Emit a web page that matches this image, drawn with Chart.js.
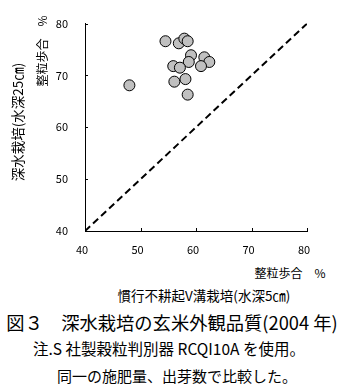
<!DOCTYPE html>
<html>
<head>
<meta charset="utf-8">
<script src="https://cdn.jsdelivr.net/npm/chart.js@4/dist/chart.umd.min.js"></script>
<style>
  html, body { margin: 0; padding: 0; background: #fff; }
  #wrap { position: relative; width: 342px; height: 389px; overflow: hidden; font-family: "Noto Sans CJK JP", sans-serif; color: #000; }
  #c { position: absolute; left: 0; top: 0; }
  .t { position: absolute; white-space: nowrap; line-height: 1; }
  .rot { transform: translate(-50%, -50%) rotate(-90deg); }
  .ctr { transform: translate(-50%, -50%); }
</style>
</head>
<body>
<div id="wrap">
  <canvas id="c" width="342" height="260"></canvas>
  <div class="t rot" style="left:42px; top:51px; font-size:12px;">整粒歩合　%</div>
  <div class="t rot" style="left:18px; top:122px; font-size:13.5px;">深水栽培(水深25㎝)</div>
  <div class="t ctr" style="left:290px; top:273px; font-size:12px;">整粒歩合　%</div>
  <div class="t ctr" style="left:204px; top:296px; font-size:13.5px;">慣行不耕起V溝栽培(水深5㎝)</div>
  <div class="t ctr" style="left:172px; top:322px; font-size:18.3px;">図３　深水栽培の玄米外観品質(2004 年)</div>
  <div class="t ctr" style="left:169px; top:349px; font-size:15.5px;">注.S 社製穀粒判別器 RCQI10A を使用。</div>
  <div class="t ctr" style="left:177px; top:375px; font-size:15px;">同一の施肥量、出芽数で比較した。</div>
</div>
<script>
// Head rice ratio (%): conventional no-till V-furrow (x) vs deep-water culture (y)
const conventionalRatio = [48.0, 54.5, 56.9, 57.9, 58.5, 59.1, 58.7, 55.9, 57.1, 61.5, 62.4, 60.9, 56.1, 58.1, 58.5];
const deepWaterRatio    = [68.1, 76.6, 76.2, 77.1, 76.6, 73.9, 72.6, 71.8, 71.5, 73.5, 72.6, 71.8, 68.8, 69.3, 66.3];
const equalityLine = [40, 80];
const axisMin = 40, axisMax = 80, axisStep = 10;

const points = conventionalRatio.map((x, i) => ({ x: x, y: deepWaterRatio[i] }));
const diagonal = equalityLine.map(v => ({ x: v, y: v }));

// Short inward tick marks on both axes
const innerTicks = {
  id: 'innerTicks',
  afterDraw(chart) {
    const { ctx, chartArea, scales } = chart;
    ctx.save();
    ctx.strokeStyle = '#000';
    ctx.lineWidth = 1;
    ctx.beginPath();
    scales.y.ticks.forEach(t => {
      const py = Math.round(scales.y.getPixelForValue(t.value)) + 0.5;
      ctx.moveTo(chartArea.left, py);
      ctx.lineTo(chartArea.left + 3, py);
    });
    scales.x.ticks.forEach(t => {
      const px = Math.round(scales.x.getPixelForValue(t.value)) + 0.5;
      ctx.moveTo(px, chartArea.bottom);
      ctx.lineTo(px, chartArea.bottom - 3);
    });
    ctx.stroke();
    ctx.restore();
  }
};

new Chart(document.getElementById('c'), {
  type: 'scatter',
  data: {
    datasets: [
      {
        data: points,
        backgroundColor: '#c0c0c0',
        borderColor: '#000',
        borderWidth: 1,
        pointRadius: 5.5,
        order: 1
      },
      {
        type: 'line',
        data: diagonal,
        borderColor: '#000',
        borderWidth: 2,
        borderDash: [7, 4],
        pointRadius: 0,
        fill: false,
        order: 2
      }
    ]
  },
  options: {
    responsive: false,
    animation: false,
    layout: { padding: { left: 0, right: 35, top: 23, bottom: 0 } },
    plugins: { legend: { display: false }, tooltip: { enabled: false } },
    scales: {
      x: {
        type: 'linear',
        min: axisMin, max: axisMax,
        afterFit(s) { s.height = 29; },
        border: { display: true, color: '#000', width: 1 },
        grid: { display: true, drawOnChartArea: false, drawTicks: false },
        ticks: { stepSize: axisStep, color: '#000', padding: 12, labelOffset: -3, font: { family: 'Noto Sans CJK JP', size: 11 } }
      },
      y: {
        type: 'linear',
        min: axisMin, max: axisMax,
        afterFit(s) { s.width = 85; },
        border: { display: true, color: '#000', width: 1 },
        grid: { display: true, drawOnChartArea: false, drawTicks: false },
        ticks: { stepSize: axisStep, color: '#000', padding: 17, font: { family: 'Noto Sans CJK JP', size: 11 } }
      }
    }
  },
  plugins: [innerTicks]
});
</script>
</body>
</html>
